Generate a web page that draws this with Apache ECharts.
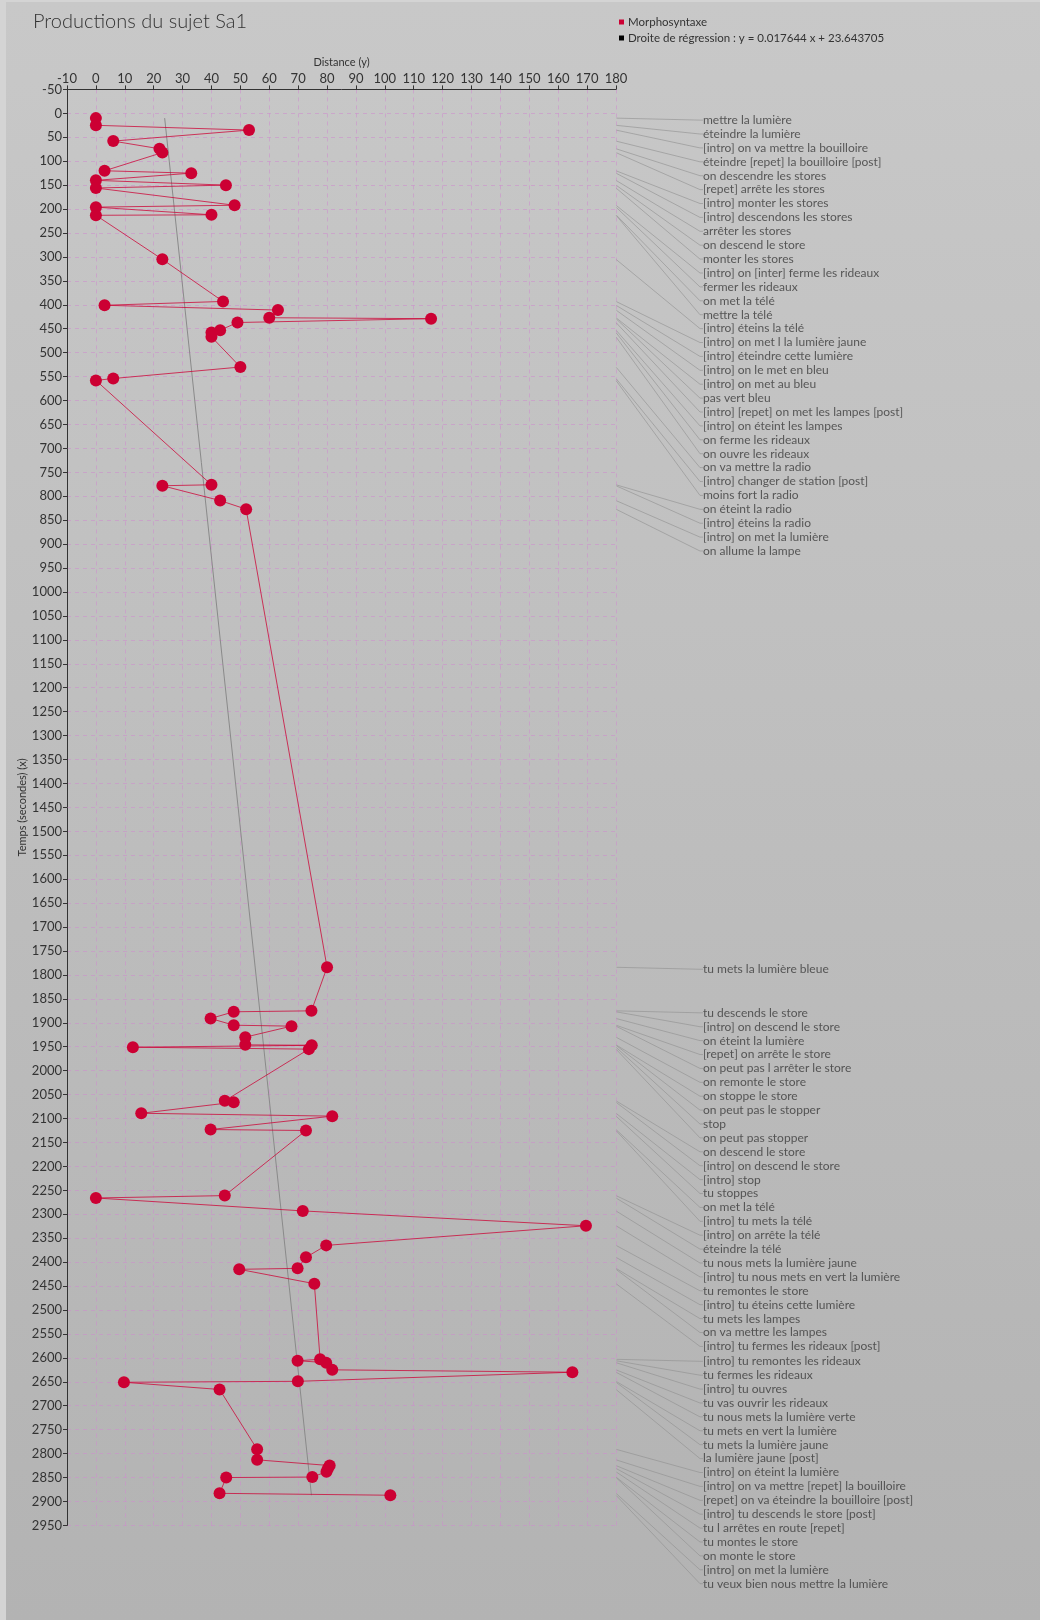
<!DOCTYPE html>
<html><head><meta charset="utf-8">
<script src="https://cdn.jsdelivr.net/npm/echarts@6/dist/echarts.min.js"></script>
<style>
html,body{margin:0;padding:0;background:#d4d4d4;overflow:hidden;width:1040px;height:1620px;}
#c{position:absolute;left:6px;top:2px;width:1034px;height:1618px;}
</style></head><body><div id="c"></div>
<script>
// Time (seconds) of each production
const times = [10,25,35,58,74,82,120,125,140,150,156,192,196,212,213,305,393,401,411,427,429,437,453,458,467,530,554,558,776,778,809,827,
  1784,
  1875,1877,1891,1905,1907,1930,1946,1947,1951,1955,
  2063,2066,2089,2095,2123,2125,
  2261,2266,2293,2324,2365,2390,2413,2415,2445,
  2603,2606,2610,2625,2630,2649,2651,2666,
  2791,2813,2825,2831,2838,2849,2850,2883,2887];
// Distance of each production
const distances = [0,0,53,6,22,23,3,33,0,45,0,48,0,40,0,23,44,3,63,60,116,49,43,40,40,50,6,0,40,23,43,52,
  80,
  74.6,47.7,39.7,47.7,67.7,51.7,51.7,74.7,12.8,73.7,
  44.6,47.7,15.7,81.8,39.7,72.7,
  44.6,0,71.6,169.6,79.7,72.7,69.8,49.6,75.6,
  77.6,69.8,79.7,81.8,164.9,69.9,9.7,42.8,
  55.8,55.8,80.9,80.3,79.8,74.9,45.1,42.8,101.9];
const utterances = [
  "mettre la lumière","éteindre la lumière","[intro] on va mettre la bouilloire","éteindre [repet] la bouilloire [post]",
  "on descendre les stores","[repet] arrête les stores","[intro] monter les stores","[intro] descendons les stores",
  "arrêter les stores","on descend le store","monter les stores","[intro] on [inter] ferme les rideaux",
  "fermer les rideaux","on met la télé","mettre la télé","[intro] éteins la télé","[intro] on met l la lumière jaune",
  "[intro] éteindre cette lumière","[intro] on le met en bleu","[intro] on met au bleu","pas vert bleu",
  "[intro] [repet] on met les lampes [post]","[intro] on éteint les lampes","on ferme les rideaux","on ouvre les rideaux",
  "on va mettre la radio","[intro] changer de station [post]","moins fort la radio","on éteint la radio",
  "[intro] éteins la radio","[intro] on met la lumière","on allume la lampe",
  "tu mets la lumière bleue",
  "tu descends le store","[intro] on descend le store","on éteint la lumière","[repet] on arrête le store",
  "on peut pas l arrêter le store","on remonte le store","on stoppe le store","on peut pas le stopper","stop",
  "on peut pas stopper",
  "on descend le store","[intro] on descend le store","[intro] stop","tu stoppes","on met la télé","[intro] tu mets la télé",
  "[intro] on arrête la télé","éteindre la télé","tu nous mets la lumière jaune","[intro] tu nous mets en vert la lumière",
  "tu remontes le store","[intro] tu éteins cette lumière","tu mets les lampes","on va mettre les lampes",
  "[intro] tu fermes les rideaux [post]",
  "[intro] tu remontes les rideaux","tu fermes les rideaux","[intro] tu ouvres","tu vas ouvrir les rideaux",
  "tu nous mets la lumière verte","tu mets en vert la lumière","tu mets la lumière jaune","la lumière jaune [post]",
  "[intro] on éteint la lumière","[intro] on va mettre [repet] la bouilloire","[repet] on va éteindre la bouilloire [post]",
  "[intro] tu descends le store [post]","tu l arrêtes en route [repet]","tu montes le store","on monte le store",
  "[intro] on met la lumière","tu veux bien nous mettre la lumière"
];
// Regression line end points
const regTimes = [10, 2887];
const regDistances = [23.8, 74.6];

const seriesName = 'Morphosyntaxe';
const regName = 'Droite de régression : y = 0.017644 x + 23.643705';
const FONT = 'Lato, "Open Sans", sans-serif';
const gridColor = 'rgba(205,140,205,0.55)';

// simple downward stacking of the utterance labels
let stackY = -Infinity;
function stackLabels(p) {
  if (p.dataIndex === 0) stackY = -Infinity;
  const anchor = p.rect.y + p.rect.height / 2;
  const y = Math.max(anchor + 2, stackY + 13.9);
  stackY = y;
  return {x: 697, y: y, align: 'left', verticalAlign: 'middle'};
}

const chart = echarts.init(document.getElementById('c'));
chart.setOption({
  animation: false,
  backgroundColor: new echarts.graphic.LinearGradient(0, 0, 0, 1, [
    {offset: 0, color: '#c8c8c8'}, {offset: 1, color: '#b3b3b3'}]),
  title: {
    text: 'Productions du sujet Sa1', left: 22, top: 5,
    textStyle: {fontFamily: FONT, fontWeight: 300, fontSize: 20, color: '#333'}
  },
  legend: {
    orient: 'vertical', left: 608, top: 9, itemWidth: 5, itemHeight: 5, itemGap: 4,
    icon: 'rect', selectedMode: false,
    data: [seriesName, regName],
    textStyle: {fontFamily: FONT, fontSize: 11.5, color: '#333', padding: [0,0,0,-1]}
  },
  grid: {left: 61, top: 87.4, width: 549, height: 1436, outerBoundsMode: 'none'},
  xAxis: {
    type: 'value', position: 'top', min: -10, max: 180, interval: 10,
    name: 'Distance (y)', nameLocation: 'middle', nameGap: 21, nameMoveOverlap: false,
    nameTextStyle: {fontFamily: FONT, fontSize: 11, color: '#333'},
    axisLine: {show: true, onZero: false, lineStyle: {color: '#333', width: 1}},
    axisTick: {show: true, length: 4, lineStyle: {color: '#333'}},
    axisLabel: {margin: 4, fontSize: 13, color: '#333', fontFamily: FONT, formatter: v => String(v)},
    splitLine: {show: true, lineStyle: {color: gridColor, type: [4, 4], width: 1}}
  },
  yAxis: {
    type: 'value', inverse: true, min: -50, max: 2950, interval: 50,
    name: 'Temps (secondes) (x)', nameLocation: 'middle', nameGap: 39, nameRotate: 90,
    nameMoveOverlap: false,
    nameTextStyle: {fontFamily: FONT, fontSize: 11, color: '#333'},
    axisLine: {show: true, onZero: false, lineStyle: {color: '#333', width: 1}},
    axisTick: {show: true, length: 4, lineStyle: {color: '#333'}},
    axisLabel: {margin: 5, fontSize: 13, color: '#333', fontFamily: FONT, formatter: v => String(v)},
    splitLine: {show: true, lineStyle: {color: gridColor, type: [4, 4], width: 1}}
  },
  series: [
    {
      name: seriesName, type: 'line', z: 3,
      data: times.map((t, i) => [distances[i], t]),
      symbol: 'circle', symbolSize: 12,
      itemStyle: {color: '#cc0033'},
      lineStyle: {color: '#cc0033', width: 1, opacity: 0.75},
      emphasis: {disabled: true}, silent: true
    },
    {
      name: regName, type: 'line', z: 2,
      data: regTimes.map((t, i) => [regDistances[i], t]),
      symbol: 'none', itemStyle: {color: '#000'},
      lineStyle: {color: '#8a8a8a', width: 1},
      emphasis: {disabled: true}, silent: true
    },
    {
      name: 'labels', type: 'scatter', z: 1, clip: false, silent: true,
      data: times.map((t, i) => ({value: [180, t], name: utterances[i]})),
      symbolSize: 1, itemStyle: {color: 'rgba(0,0,0,0)'},
      label: {show: true, position: 'right', formatter: '{b}', fontFamily: FONT, fontSize: 12,
        color: '#3a3a3a', lineHeight: 13.8},
      labelLine: {show: true, length2: 3, lineStyle: {color: '#8f8f8f', width: 0.6}},
      labelLayout: stackLabels,
      emphasis: {disabled: true}
    }
  ]
});
</script></body></html>
